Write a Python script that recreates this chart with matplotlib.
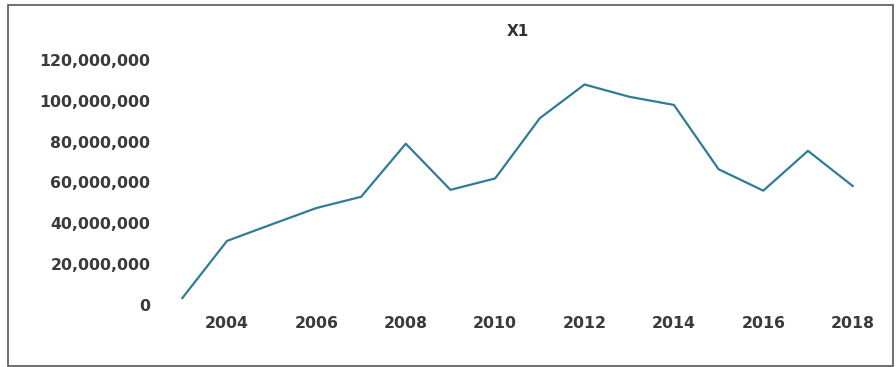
import numpy as np
import matplotlib.pyplot as plt
from matplotlib.patches import Rectangle
from matplotlib.ticker import FuncFormatter

# datos
anios = [2003, 2004, 2005, 2006, 2007, 2008, 2009, 2010,
         2011, 2012, 2013, 2014, 2015, 2016, 2017, 2018]
valores = [3.4e6, 31.4e6, 39.5e6, 47.5e6, 53.0e6, 79.0e6, 56.4e6, 62.0e6,
           91.5e6, 108.0e6, 102.0e6, 98.0e6, 66.5e6, 56.0e6, 75.5e6, 58.3e6]
ticks_x = [2004, 2006, 2008, 2010, 2012, 2014, 2016, 2018]
ticks_y = [0, 20e6, 40e6, 60e6, 80e6, 100e6, 120e6]

fig = plt.figure(figsize=(8.96, 3.67), dpi=100)
ax = fig.add_axes([160/896, 62/367, 715/896, 245/367])

ax.plot(anios, valores, color='#2f7c98', linewidth=1.6)

ax.set_xlim(2002.5, 2018.5)
ax.set_ylim(0, 120e6)
ax.set_xticks(ticks_x)
ax.set_yticks(ticks_y)
ax.yaxis.set_major_formatter(FuncFormatter(lambda v, p: f'{int(v):,}'))
ax.tick_params(length=0, labelsize=11.3, labelcolor='#3a3a3a')
ax.tick_params(axis='y', pad=7)
ax.tick_params(axis='x', pad=8)
for lab in ax.get_xticklabels() + ax.get_yticklabels():
    lab.set_fontweight('bold')
for s in ax.spines.values():
    s.set_visible(False)

ax.set_title('X1', fontsize=11, color='#333333', pad=17, fontweight='bold')

# marco exterior
fig.patches.append(Rectangle((8/896, 1/367), 885/896, 361/367, transform=fig.transFigure,
                             fill=False, edgecolor='#555555', linewidth=1.2))

fig.savefig('out.png', dpi=100)
